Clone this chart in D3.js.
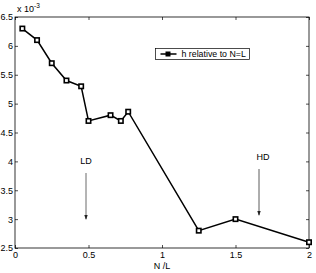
<!DOCTYPE html>
<html lang="en">
<head>
    <meta charset="UTF-8">
    <title>h relative to N=L</title>
    <script src="https://d3js.org/d3.v7.min.js"></script>
    <style>
        body { margin: 0; background: #fff; }
        text { font-family: "Liberation Sans", Arial, sans-serif; font-size: 9px; fill: #000; }
    </style>
</head>
<body>
<div id="chart"></div>
<script>
    // N/L ratio and h values (x 10^-3)
    const ratios = [0.05, 0.15, 0.25, 0.35, 0.45, 0.5, 0.65, 0.72, 0.77, 1.25, 1.5, 2.0];
    const hValues = [6.3, 6.1, 5.7, 5.4, 5.3, 4.7, 4.8, 4.7, 4.86, 2.8, 3.0, 2.6];
    const xTicks = [0, 0.5, 1, 1.5, 2];
    const yTicks = [2.5, 3, 3.5, 4, 4.5, 5, 5.5, 6, 6.5];

    const W = 316, H = 273;
    const margin = { top: 17, right: 7, bottom: 25, left: 15 };
    const width = W - margin.left - margin.right;
    const height = H - margin.top - margin.bottom;

    const svg = d3.select("#chart").append("svg")
        .attr("width", W)
        .attr("height", H);
    const g = svg.append("g")
        .attr("transform", "translate(" + margin.left + "," + margin.top + ")");

    const x = d3.scaleLinear().domain([0, 2]).range([0, width]);
    const y = d3.scaleLinear().domain([2.5, 6.5]).range([height, 0]);

    // frame
    g.append("rect")
        .attr("width", width).attr("height", height)
        .attr("fill", "none").attr("stroke", "#000").attr("stroke-width", 0.8);

    const tickLen = 3;
    g.append("g").attr("transform", "translate(0," + height + ")")
        .call(d3.axisBottom(x).tickValues(xTicks).tickSizeInner(-tickLen).tickSizeOuter(0).tickPadding(4)
            .tickFormat(d3.format("")))
        .call(a => a.select(".domain").remove());
    g.append("g")
        .call(d3.axisTop(x).tickValues(xTicks).tickSizeInner(-tickLen).tickSizeOuter(0).tickFormat(""))
        .call(a => a.select(".domain").remove());
    g.append("g")
        .call(d3.axisLeft(y).tickValues(yTicks).tickSizeInner(-tickLen).tickSizeOuter(0).tickPadding(2)
            .tickFormat(d3.format("")))
        .call(a => a.select(".domain").remove());
    g.append("g").attr("transform", "translate(" + width + ",0)")
        .call(d3.axisRight(y).tickValues(yTicks).tickSizeInner(-tickLen).tickSizeOuter(0).tickFormat(""))
        .call(a => a.select(".domain").remove());
    g.selectAll(".tick line").attr("stroke", "#000").attr("stroke-width", 0.7);
    g.selectAll(".tick text").style("font-size", "9px").attr("fill", "#000");

    // exponent label
    const expo = svg.append("text").attr("x", margin.left + 2).attr("y", 12);
    expo.append("tspan").text("x 10");
    expo.append("tspan").attr("dy", -4).style("font-size", "6.5px").text("-3");

    // line + markers
    const pts = ratios.map((r, i) => [r, hValues[i]]);
    g.append("path")
        .datum(pts)
        .attr("fill", "none").attr("stroke", "#000").attr("stroke-width", 1.5)
        .attr("d", d3.line().x(d => x(d[0])).y(d => y(d[1])));
    g.selectAll(".mk").data(pts).enter().append("rect")
        .attr("x", d => x(d[0]) - 2.2).attr("y", d => y(d[1]) - 2.2)
        .attr("width", 4.4).attr("height", 4.4)
        .attr("fill", "#fff").attr("stroke", "#000").attr("stroke-width", 1.6);

    // legend
    const lg = svg.append("g").attr("transform", "translate(155.5,48.5)");
    lg.append("rect").attr("width", 94).attr("height", 11)
        .attr("fill", "#fff").attr("stroke", "#000").attr("stroke-width", 0.7);
    lg.append("line").attr("x1", 5).attr("x2", 21).attr("y1", 5.5).attr("y2", 5.5)
        .attr("stroke", "#000").attr("stroke-width", 1.5);
    lg.append("rect").attr("x", 10.5).attr("y", 3.5).attr("width", 4).attr("height", 4)
        .attr("fill", "#000").attr("stroke", "#000");
    lg.append("text").attr("x", 26).attr("y", 8.6).style("font-size", "8.8px").text("h relative to N=L");

    // annotations
    svg.append("text").attr("x", 86).attr("y", 164).attr("text-anchor", "middle").text("LD");
    svg.append("line").attr("x1", 86).attr("x2", 86).attr("y1", 173).attr("y2", 219)
        .attr("stroke", "#444").attr("stroke-width", 0.8);
    svg.append("path").attr("d", "M84.3,215 L87.7,215 L86,220 Z").attr("fill", "#222");
    svg.append("text").attr("x", 263).attr("y", 160).attr("text-anchor", "middle").text("HD");
    svg.append("line").attr("x1", 259).attr("x2", 259).attr("y1", 169).attr("y2", 215)
        .attr("stroke", "#333").attr("stroke-width", 0.8);
    svg.append("path").attr("d", "M257.3,211 L260.7,211 L259,216 Z").attr("fill", "#222");

    // x label
    svg.append("text").attr("x", margin.left + width / 2).attr("y", 269)
        .attr("text-anchor", "middle").text("N /L");
</script>
</body>
</html>
